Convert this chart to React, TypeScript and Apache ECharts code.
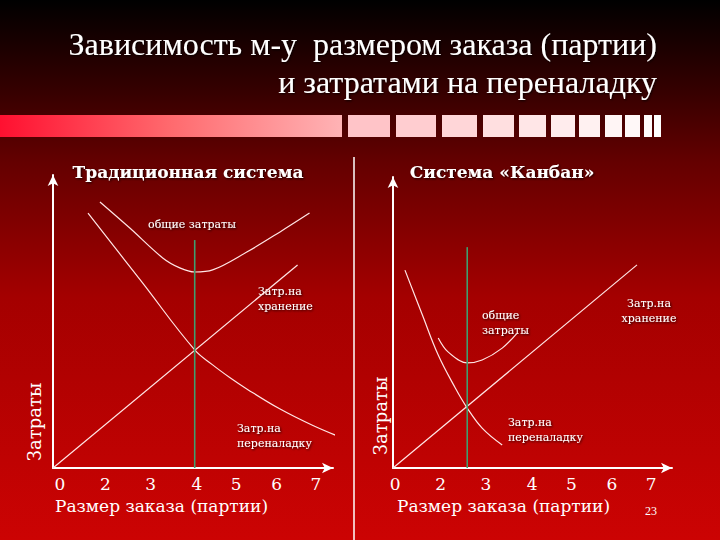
import React, { useEffect, useRef } from "react";
import * as echarts from "echarts";

// ---------- data ----------
const xTickLabels = ["0", "2", "3", "4", "5", "6", "7"];
const xTickPositions = [0, 1.07, 2.13, 3.21, 4.13, 5.08, 6.0];

// Traditional system (left panel)
const tradStorage = [[-0.16, 0], [5.57, 69.3]];
const tradSetup = [[0.66, 87.0], [1.92, 63.5], [3.16, 40.3], [3.58, 35.2], [3.98, 30.9], [4.38, 27.0], [5.15, 20.2], [5.93, 14.5], [6.63, 10.2]];
const tradTotal = [[0.94, 90.8], [1.64, 81.9], [2.41, 71.7], [2.81, 68.3], [3.16, 66.9], [3.58, 67.6], [4.38, 73.7], [5.15, 80.5], [5.85, 87.0]];
const tradOptimum = [[3.16, 0], [3.16, 77.8]];

// Kanban system (right panel)
const kanbanStorage = [[-0.05, 0], [5.67, 69.8]];
const kanbanSetup = [[0.23, 68.0], [0.63, 52.9], [1.01, 38.8], [1.41, 27.5], [1.69, 20.6], [2.04, 13.7], [2.51, 7.9]];
const kanbanTotal = [[1.01, 44.7], [1.24, 39.9], [1.69, 36.1], [2.04, 37.1], [2.51, 41.2], [2.85, 46.2]];
const kanbanOptimum = [[1.69, 0], [1.69, 75.9]];

const titleLines = ["Зависимость м-у  размером заказа (партии)", "и затратами на переналадку"];
const panelTitles = ["Традиционная система", "Система «Канбан»"];
const axisNameX = "Размер заказа (партии)";
const axisNameY = "Затраты";
const pageNumber = "23";

// ---------- decoration geometry ----------
const squares = [
  [348, 390, "#ffc4c8"], [396, 436, "#ffcdd0"], [442, 477, "#ffd6d8"], [483, 514, "#ffdfe0"],
  [519, 546, "#ffe6e7"], [551, 575, "#ffeced"], [579, 600, "#fff1f1"], [605, 622, "#fff5f5"],
  [625, 640, "#fff8f8"], [644, 652, "#fffbfb"], [654, 661, "#ffffff"],
];

const WHITE = "#ffffff";
const LINE = "#ffe6e6";
const GREEN = "#3f9f6f";
const shadow = { textShadowColor: "rgba(0,0,0,0.8)", textShadowBlur: 2, textShadowOffsetX: 1, textShadowOffsetY: 1 };

function lineSeries(data: number[][], idx: number, smooth: boolean | number, color = LINE, width = 1.2) {
  return {
    type: "line",
    xAxisIndex: idx,
    yAxisIndex: idx,
    data,
    smooth,
    symbol: "none",
    clip: false,
    silent: true,
    lineStyle: { color, width },
  };
}

function labelText(x: number, y: number, text: string, align = "left", size = 11) {
  return {
    type: "text",
    x,
    y,
    style: {
      text,
      fill: WHITE,
      font: `${size}px "DejaVu Serif"`,
      align,
      verticalAlign: "top",
      lineHeight: 15,
      ...shadow,
    },
  };
}

function nearestLabel(v: number) {
  let best = 0;
  for (let i = 1; i < xTickPositions.length; i++) {
    if (Math.abs(xTickPositions[i] - v) < Math.abs(xTickPositions[best] - v)) best = i;
  }
  return xTickLabels[best];
}

export default function App() {
  const ref = useRef<HTMLDivElement>(null);

  useEffect(() => {
    if (!ref.current) return;
    const chart = echarts.init(ref.current, null, { renderer: "svg" });

    const axisLine = {
      show: true,
      onZero: false,
      symbol: ["none", "arrow"],
      symbolSize: [8, 11],
      lineStyle: { color: WHITE, width: 2 },
    };

    const option: any = {
      animation: false,
      backgroundColor: new echarts.graphic.LinearGradient(0, 0, 0, 1, [
        { offset: 0, color: "#000000" },
        { offset: 0.17, color: "#360000" },
        { offset: 0.3, color: "#640000" },
        { offset: 0.55, color: "#a40000" },
        { offset: 1, color: "#cc0303" },
      ]),
      grid: [
        { left: 53, top: 175, width: 280, height: 293 },
        { left: 393, top: 177, width: 279, height: 291 },
      ],
      xAxis: [0, 1].map((i) => ({
        type: "value",
        gridIndex: i,
        min: i === 0 ? -0.16 : -0.05,
        max: i === 0 ? 6.4 : 6.49,
        axisLine,
        axisTick: { show: false },
        splitLine: { show: false },
        axisLabel: {
          customValues: xTickPositions,
          formatter: (v: number) => nearestLabel(v),
          color: WHITE,
          fontFamily: "DejaVu Serif",
          fontSize: 17,
          margin: 7,
        },
      })),
      yAxis: [0, 1].map((i) => ({
        type: "value",
        gridIndex: i,
        min: 0,
        max: 100,
        axisLine,
        axisTick: { show: false },
        splitLine: { show: false },
        axisLabel: { show: false },
      })),
      series: [
        lineSeries(tradStorage, 0, false),
        lineSeries(tradSetup, 0, 0.4),
        lineSeries(tradTotal, 0, 0.35),
        lineSeries(tradOptimum, 0, false, GREEN, 1.6),
        lineSeries(kanbanStorage, 1, false),
        lineSeries(kanbanSetup, 1, 0.4),
        lineSeries(kanbanTotal, 1, 0.35),
        lineSeries(kanbanOptimum, 1, false, GREEN, 1.6),
      ],
      graphic: [
        // decorative bar
        {
          type: "rect",
          shape: { x: 0, y: 115, width: 342, height: 22 },
          style: {
            fill: new echarts.graphic.LinearGradient(0, 0, 1, 0, [
              { offset: 0, color: "#ff1030" },
              { offset: 0.5, color: "#ff6a6e" },
              { offset: 1, color: "#ffb3b5" },
            ]),
          },
          silent: true,
        },
        ...squares.map(([a, b, c]) => ({
          type: "rect",
          shape: { x: a as number, y: 115, width: (b as number) - (a as number), height: 22 },
          style: { fill: c as string },
          silent: true,
        })),
        // separator
        {
          type: "line",
          shape: { x1: 354, y1: 157, x2: 354, y2: 540 },
          style: { stroke: WHITE, lineWidth: 1.5 },
          silent: true,
        },
        // main title
        ...titleLines.map((t, i) => ({
          type: "text",
          x: 657,
          y: i === 0 ? 44 : 82,
          style: {
            text: t,
            fill: WHITE,
            font: '32px "Liberation Serif"',
            align: "right",
            verticalAlign: "middle",
            ...shadow,
          },
        })),
        // panel titles
        ...panelTitles.map((t, i) => ({
          type: "text",
          x: i === 0 ? 188 : 502,
          y: 172,
          style: {
            text: t,
            fill: WHITE,
            font: 'bold 17px "DejaVu Serif"',
            align: "center",
            verticalAlign: "middle",
            ...shadow,
          },
        })),
        // axis names
        ...[55, 397].map((x) => ({
          type: "text",
          x,
          y: 506,
          style: {
            text: axisNameX,
            fill: WHITE,
            font: '17px "DejaVu Serif"',
            align: "left",
            verticalAlign: "middle",
          },
        })),
        ...[[34, 422], [380, 416]].map(([x, y]) => ({
          type: "text",
          x,
          y,
          rotation: Math.PI / 2,
          style: {
            text: axisNameY,
            fill: WHITE,
            font: '18px "DejaVu Serif"',
            align: "center",
            verticalAlign: "middle",
          },
        })),
        // curve annotations
        labelText(192, 217, "общие затраты", "center"),
        labelText(258, 284, "Затр.на\nхранение"),
        labelText(237, 421, "Затр.на\nпереналадку"),
        labelText(482, 308, "общие\nзатраты"),
        labelText(649, 296, "Затр.на\nхранение", "center"),
        labelText(508, 415, "Затр.на\nпереналадку"),
        // page number
        {
          type: "text",
          x: 651,
          y: 511,
          style: {
            text: pageNumber,
            fill: WHITE,
            font: '12px "Liberation Serif"',
            align: "center",
            verticalAlign: "middle",
          },
        },
      ],
    };

    chart.setOption(option);
    return () => chart.dispose();
  }, []);

  return (
    <div
      ref={ref}
      style={{ position: "fixed", left: 0, top: 0, width: 720, height: 540 }}
    />
  );
}
